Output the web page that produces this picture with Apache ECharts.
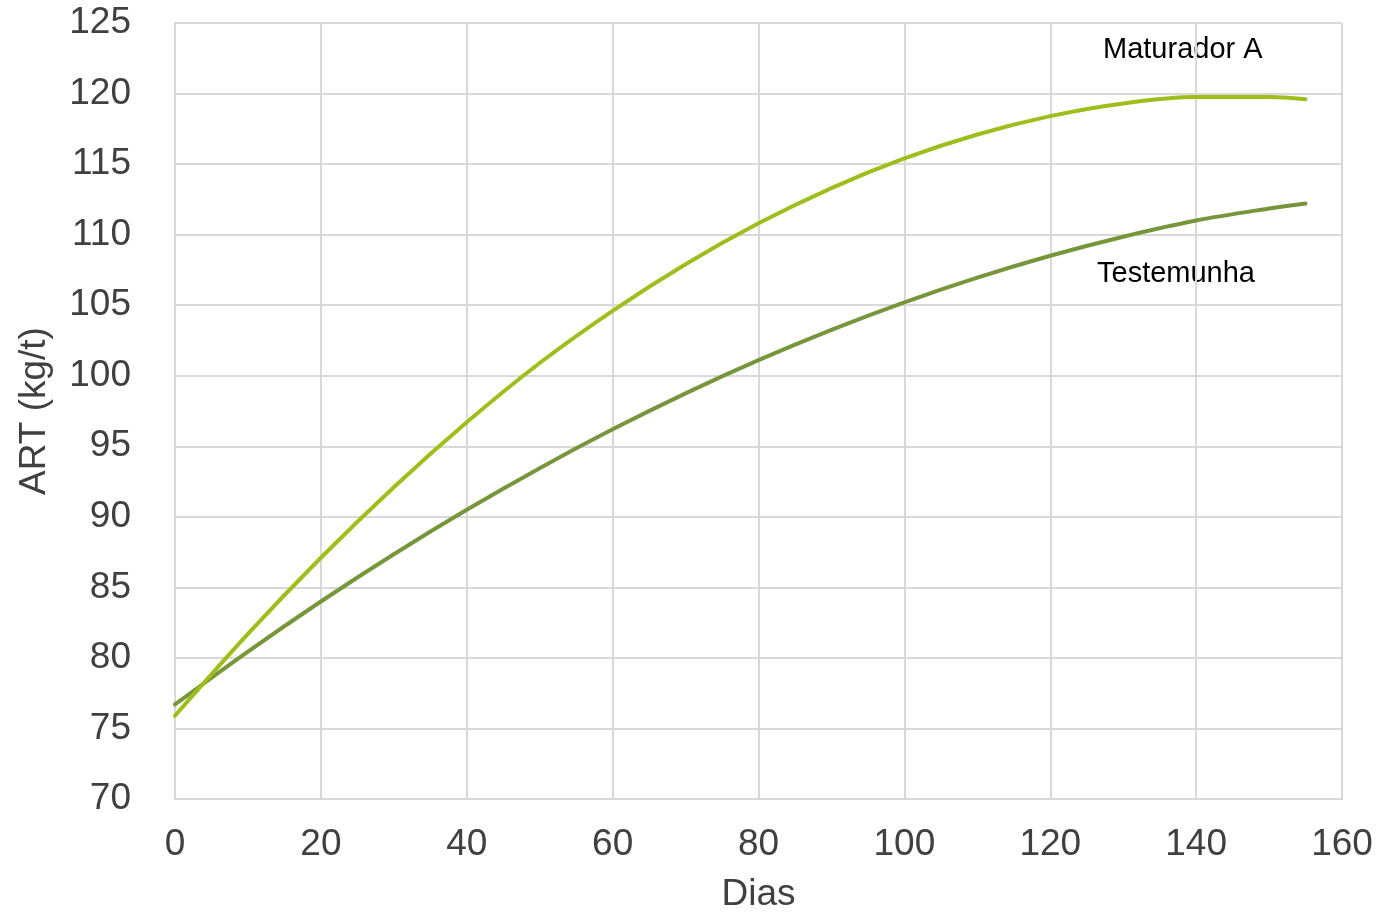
<!DOCTYPE html>
<html>
<head>
<meta charset="utf-8">
<script src="https://cdn.jsdelivr.net/npm/echarts@6/dist/echarts.min.js"></script>
<style>
html,body{margin:0;padding:0;background:#fff;}
#chart{width:1381px;height:912px;}
</style>
</head>
<body>
<div id="chart"></div>
<script>
const days = [0, 10, 20, 30, 40, 50, 60, 70, 80, 90, 100, 110, 120, 130, 140, 150, 155];
const maturadorA = [75.9, 81.7, 87.1, 92.1, 96.7, 100.9, 104.6, 107.9, 110.8, 113.3, 115.4, 117.1, 118.4, 119.3, 119.75, 119.75, 119.6];
const testemunha = [76.7, 80.45, 84.0, 87.35, 90.5, 93.45, 96.2, 98.75, 101.1, 103.25, 105.2, 106.95, 108.5, 109.85, 111.0, 111.85, 112.2];
const seriesNames = ['Maturador A', 'Testemunha'];
const xTitle = 'Dias';
const yTitle = 'ART (kg/t)';

const font = '"Liberation Sans", Arial, sans-serif';
const chart = echarts.init(document.getElementById('chart'), null, {renderer: 'canvas'});

function pairs(ys){ return days.map((d, i) => [d, ys[i]]); }

const option = {
  animation: false,
  backgroundColor: '#ffffff',
  grid: {left: 175, right: 39, top: 23, bottom: 113, containLabel: false, outerBoundsMode: 'none'},
  xAxis: {
    type: 'value', min: 0, max: 160, interval: 20,
    name: xTitle, nameLocation: 'middle', nameGap: 77,
    nameTextStyle: {fontFamily: font, fontSize: 37, color: '#404040'},
    axisLine: {show: true, lineStyle: {color: '#d9d9d9', width: 2}},
    axisTick: {show: false},
    axisLabel: {fontFamily: font, fontSize: 37, color: '#404040', margin: 27},
    splitLine: {show: true, lineStyle: {color: '#d9d9d9', width: 2}}
  },
  yAxis: {
    type: 'value', min: 70, max: 125, interval: 5,
    name: yTitle, nameLocation: 'middle', nameGap: 122, nameRotate: 90,
    nameTextStyle: {fontFamily: font, fontSize: 37, color: '#404040'},
    axisLine: {show: true, lineStyle: {color: '#d9d9d9', width: 2}},
    axisTick: {show: false},
    axisLabel: {fontFamily: font, fontSize: 37, color: '#404040', margin: 44},
    splitLine: {show: true, lineStyle: {color: '#d9d9d9', width: 2}}
  },
  series: [
    {
      name: seriesNames[0], type: 'line', smooth: 0.35, showSymbol: false,
      data: pairs(maturadorA),
      lineStyle: {color: '#9dbe1b', width: 4, cap: 'round'}, z: 3
    },
    {
      name: seriesNames[1], type: 'line', smooth: 0.35, showSymbol: false,
      data: pairs(testemunha),
      lineStyle: {color: '#77963b', width: 4, cap: 'round'}, z: 2
    }
  ],
  graphic: [
    {type: 'text', left: 1103, top: 35, style: {text: seriesNames[0], font: '29px ' + font, fill: '#000'}},
    {type: 'text', left: 1097, top: 259, style: {text: seriesNames[1], font: '29px ' + font, fill: '#000'}}
  ]
};
chart.setOption(option);
</script>
</body>
</html>
